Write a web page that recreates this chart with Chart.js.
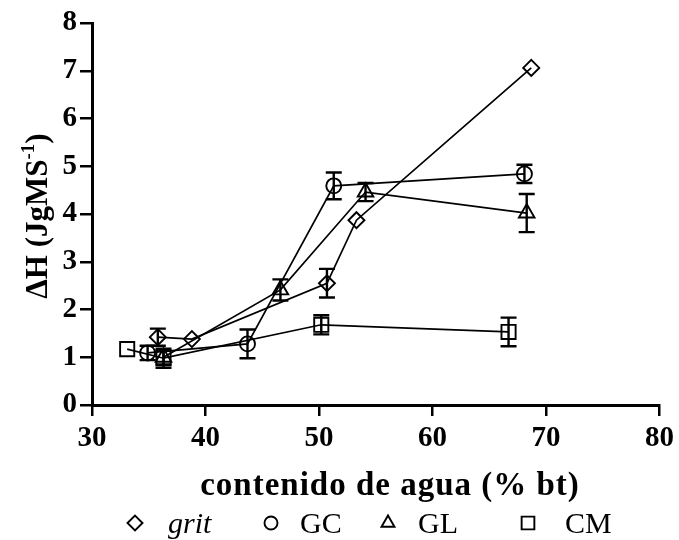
<!DOCTYPE html>
<html>
<head>
<meta charset="utf-8">
<script src="https://cdn.jsdelivr.net/npm/chart.js@4/dist/chart.umd.min.js"></script>
<style>
  html, body { margin: 0; padding: 0; background: #fff; }
  #wrap { width: 679px; height: 540px; position: relative; }
</style>
</head>
<body>
<div id="wrap"><canvas id="c" width="679" height="540"></canvas></div>
<script>
// ---- data ----
const gritX = [35.8, 38.8, 50.7, 53.3, 68.7];
const gritY = [1.42, 1.38, 2.55, 3.87, 7.06];
const gritErr = [0.18, 0, 0.30, 0, 0];

const gcX = [34.9, 43.7, 51.3, 68.1];
const gcY = [1.09, 1.28, 4.59, 4.84];
const gcErr = [0.15, 0.30, 0.28, 0.19];

const glX = [36.3, 46.6, 54.1, 68.3];
const glY = [1.00, 2.41, 4.46, 4.02];
const glErr = [0.15, 0.22, 0.19, 0.40];

const cmX = [33.1, 36.3, 50.2, 66.7];
const cmY = [1.17, 0.98, 1.68, 1.53];
const cmErr = [0, 0.20, 0.20, 0.30];

const xTicks = [30, 40, 50, 60, 70, 80];
const yTicks = [0, 1, 2, 3, 4, 5, 6, 7, 8];

const seriesNames = ['grit', 'GC', 'GL', 'CM'];
const xTitle = 'contenido de agua (% bt)';
const yTitleMain = 'ΔH (JgMS';
const yTitleSup = '-1';
const yTitleEnd = ')';

const SERIF = '"Liberation Serif", "Times New Roman", serif';

function pts(xs, ys) { return xs.map((x, i) => ({ x: x, y: ys[i] })); }

const styles = ['rectRot', 'circle', 'triangle', 'rect'];
const radii = [8, 7.5, 9, 10];
const errs = [gritErr, gcErr, glErr, cmErr];

function ds(label, xs, ys, i) {
  return {
    label: label,
    data: pts(xs, ys),
    showLine: true,
    borderColor: '#000',
    borderWidth: 1.7,
    pointStyle: styles[i],
    pointRadius: radii[i],
    pointHoverRadius: radii[i],
    pointBorderWidth: 1.9,
    pointBorderColor: '#000',
    pointBackgroundColor: 'rgba(0,0,0,0)',
    errors: errs[i]
  };
}

const errorBars = {
  id: 'errorBars',
  afterDatasetsDraw(chart) {
    const ctx = chart.ctx;
    const xs = chart.scales.x, ys = chart.scales.y;
    ctx.save();
    ctx.strokeStyle = '#000';
    ctx.lineWidth = 2.4;
    chart.data.datasets.forEach(d => {
      d.data.forEach((p, i) => {
        const e = d.errors[i];
        if (!e) return;
        const px = xs.getPixelForValue(p.x);
        const top = ys.getPixelForValue(p.y + e);
        const bot = ys.getPixelForValue(p.y - e);
        ctx.beginPath();
        ctx.moveTo(px, top); ctx.lineTo(px, bot);
        ctx.moveTo(px - 8, top); ctx.lineTo(px + 8, top);
        ctx.moveTo(px - 8, bot); ctx.lineTo(px + 8, bot);
        ctx.stroke();
      });
    });
    ctx.restore();
  }
};

const titlesAndLegend = {
  id: 'titlesAndLegend',
  afterDraw(chart) {
    const ctx = chart.ctx;
    ctx.save();
    ctx.fillStyle = '#000';
    // x title
    ctx.font = 'bold 33px ' + SERIF;
    ctx.letterSpacing = '1px';
    ctx.textAlign = 'center';
    ctx.textBaseline = 'alphabetic';
    ctx.fillText(xTitle, 390, 495);
    ctx.letterSpacing = '0px';

    // y title (rotated) with superscript
    ctx.save();
    ctx.translate(36, 216);
    ctx.rotate(-Math.PI / 2);
    const mainFont = 'bold 31px ' + SERIF;
    const supFont = 'bold 19px ' + SERIF;
    ctx.font = mainFont;
    const w1 = ctx.measureText(yTitleMain).width;
    const w3 = ctx.measureText(yTitleEnd).width;
    ctx.font = supFont;
    const w2 = ctx.measureText(yTitleSup).width;
    let sx = -(w1 + w2 + w3) / 2;
    ctx.textAlign = 'left';
    ctx.textBaseline = 'alphabetic';
    ctx.font = mainFont;
    ctx.fillText(yTitleMain, sx, 11);
    sx += w1;
    ctx.font = supFont;
    ctx.fillText(yTitleSup, sx, -2);
    sx += w2;
    ctx.font = mainFont;
    ctx.fillText(yTitleEnd, sx, 11);
    ctx.restore();

    // legend
    const ly = 523;
    const items = [
      { sx: 135, tx: 168, italic: true },
      { sx: 271, tx: 300, italic: false },
      { sx: 388, tx: 418, italic: false },
      { sx: 528, tx: 565, italic: false }
    ];
    const lr = [7.5, 6.5, 7.5, 9];
    items.forEach((it, i) => {
      ctx.strokeStyle = '#000';
      ctx.lineWidth = 1.9;
      ctx.fillStyle = 'rgba(0,0,0,0)';
      Chart.helpers.drawPoint(ctx, { pointStyle: styles[i], radius: lr[i], borderWidth: 1.9 }, it.sx, ly);
      ctx.fillStyle = '#000';
      ctx.font = (it.italic ? 'italic ' : '') + '30px ' + SERIF;
      ctx.textAlign = 'left';
      ctx.textBaseline = 'alphabetic';
      ctx.fillText(seriesNames[i], it.tx, 533);
    });
    ctx.restore();
  }
};

new Chart(document.getElementById('c'), {
  type: 'scatter',
  data: {
    datasets: [
      ds(seriesNames[0], gritX, gritY, 0),
      ds(seriesNames[1], gcX, gcY, 1),
      ds(seriesNames[2], glX, glY, 2),
      ds(seriesNames[3], cmX, cmY, 3)
    ]
  },
  options: {
    responsive: false,
    animation: false,
    events: [],
    layout: { padding: { left: 0, top: 23, right: 17, bottom: 0 } },
    plugins: { legend: { display: false }, tooltip: { enabled: false } },
    scales: {
      x: {
        type: 'linear',
        min: 30, max: 80,
        afterBuildTicks: s => { s.ticks = xTicks.map(v => ({ value: v })); },
        afterFit: s => { s.height = 135; },
        border: { display: true, color: '#000', width: 3 },
        grid: { drawOnChartArea: false, drawTicks: true, tickLength: 11, color: '#000', lineWidth: 2.5 },
        ticks: { color: '#000', padding: 5, font: { family: SERIF, size: 29, weight: 'bold' }, maxRotation: 0 }
      },
      y: {
        type: 'linear',
        min: 0, max: 8,
        afterBuildTicks: s => { s.ticks = yTicks.map(v => ({ value: v })); },
        afterFit: s => { s.width = 92; },
        border: { display: true, color: '#000', width: 3 },
        grid: { drawOnChartArea: false, drawTicks: true, tickLength: 12, color: '#000', lineWidth: 2.5 },
        ticks: { color: '#000', padding: 3, font: { family: SERIF, size: 29, weight: 'bold' } }
      }
    }
  },
  plugins: [errorBars, titlesAndLegend]
});
</script>
</body>
</html>
